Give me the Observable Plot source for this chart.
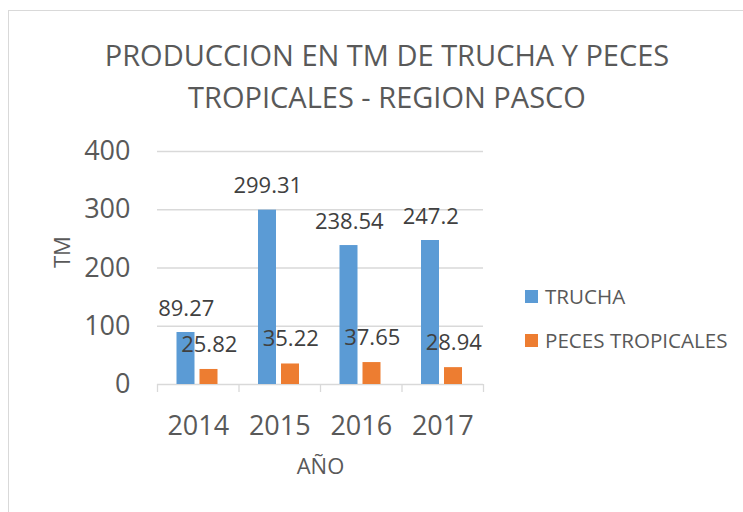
<!DOCTYPE html>
<html>
<head>
<meta charset="utf-8">
<script src="https://cdn.jsdelivr.net/npm/d3@7"></script>
<script src="https://cdn.jsdelivr.net/npm/@observablehq/plot@0.6"></script>
<style>
  html, body { margin: 0; padding: 0; background: #fff; }
  #wrap { position: relative; width: 743px; height: 512px; overflow: hidden; font-family: "Open Sans", sans-serif; color: #595959; }
  #frame { position: absolute; left: 8px; top: 10px; width: 900px; height: 700px; border: 1px solid #d9d9d9; box-sizing: border-box; }
  #title { position: absolute; left: 0; width: 774px; top: 34px; text-align: center; font-size: 29px; line-height: 42px; color: #595959; }
  #chart { position: absolute; left: 0; top: 0; }
  #legend { position: absolute; left: 525px; top: 282px; font-size: 20.6px; color: #595959; }
  .item { display: flex; align-items: center; height: 28px; margin-bottom: 16px; }
  .sw { width: 13px; height: 13px; margin-right: 7px; }
</style>
</head>
<body>
<div id="wrap">
  <div id="frame"></div>
  <div id="title">PRODUCCION EN TM DE TRUCHA Y PECES<br>TROPICALES - REGION PASCO</div>
  <div id="chart"></div>
  <div id="legend"></div>
</div>
<script>
const years = [2014, 2015, 2016, 2017];
const trucha = [89.27, 299.31, 238.54, 247.2];
const peces = [25.82, 35.22, 37.65, 28.94];
const seriesNames = ["TRUCHA", "PECES TROPICALES"];
const seriesColors = ["#5B9BD5", "#ED7D31"];
const yTicks = [0, 100, 200, 300, 400];

const truchaData = years.map((y, i) => ({year: y, value: trucha[i]}));
const pecesData = years.map((y, i) => ({year: y, value: peces[i]}));
const bounds = [years[0] - 0.5, ...years.map(y => y + 0.5)];

const gridColor = "#d9d9d9";
const textColor = "#595959";

const plot = Plot.plot({
  width: 743,
  height: 512,
  marginLeft: 157,
  marginRight: 260,
  marginTop: 151,
  marginBottom: 128,
  style: {fontFamily: "Open Sans, sans-serif", background: "transparent", overflow: "visible"},
  x: {type: "linear", domain: [bounds[0], bounds[bounds.length - 1]]},
  y: {domain: [0, 400]},
  marks: [
    Plot.gridY({ticks: yTicks, stroke: gridColor, strokeOpacity: 1, strokeWidth: 1.3}),
    Plot.axisY({ticks: yTicks, tickSize: 0, tickPadding: 27, fontSize: 27, fill: textColor, label: null}),
    Plot.axisX({ticks: bounds, tickSize: 8, stroke: gridColor, strokeOpacity: 1, strokeWidth: 1.3, tickFormat: () => "", label: null}),
    Plot.axisX({ticks: years, tickSize: 0, tickPadding: 31, fontSize: 27, fill: textColor, tickFormat: d => String(d), label: null}),
    Plot.rectY(truchaData, {x1: d => d.year - 0.5, x2: d => d.year + 0.5, y: "value", fill: seriesColors[0], insetLeft: 19.5, insetRight: 44}),
    Plot.rectY(pecesData, {x1: d => d.year - 0.5, x2: d => d.year + 0.5, y: "value", fill: seriesColors[1], insetLeft: 42.5, insetRight: 21}),
    Plot.text(truchaData, {x: "year", y: "value", text: d => String(d.value), dx: -12, dy: -24, fontSize: 22, fill: "#404040"}),
    Plot.text(pecesData, {x: "year", y: "value", text: d => String(d.value), dx: 11, dy: -25, fontSize: 22, fill: "#404040"}),
    Plot.text(["TM"], {frameAnchor: "left", dx: -95, rotate: -90, fontSize: 22, fill: textColor}),
    Plot.text(["AÑO"], {frameAnchor: "bottom", dy: 89, fontSize: 22, fill: textColor})
  ]
});
document.getElementById("chart").appendChild(plot);

const legend = document.getElementById("legend");
seriesNames.forEach((name, i) => {
  const item = document.createElement("div");
  item.className = "item";
  const sw = document.createElement("div");
  sw.className = "sw";
  sw.style.background = seriesColors[i];
  const label = document.createElement("span");
  label.textContent = name;
  item.appendChild(sw);
  item.appendChild(label);
  legend.appendChild(item);
});
</script>
</body>
</html>
